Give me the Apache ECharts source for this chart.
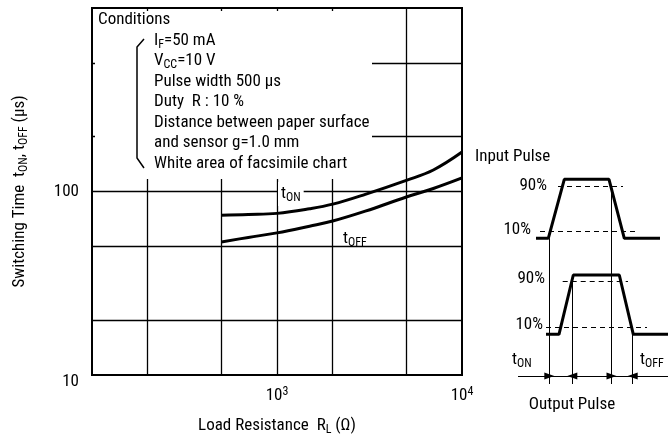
<!DOCTYPE html>
<html><head><meta charset="utf-8">
<script src="https://cdn.jsdelivr.net/npm/echarts@6/dist/echarts.min.js"></script>
<style>html,body{margin:0;padding:0;background:#fff}#c{width:668px;height:441px}</style>
</head><body><div id="c"></div>
<script>
// ---- data ----
const resistance = [500, 700, 1000, 1500, 2000, 3000, 5000, 7000, 10000];
const tOn  = [74.3, 74.9, 76.0, 80.5, 85.3, 96.5, 115, 131, 164];
const tOff = [53.1, 56.2, 59.5, 64.7, 69.0, 78.1, 93.3, 103.8, 118.5];
const xGridValues = [200, 500, 1000, 2000, 5000];
const yGridValues = [20, 50, 100, 200, 500];
const xTickExp = {1000: '3', 10000: '4'};
const yTickLabels = {10: '10', 100: '100'};
const conditionTitle = 'Conditions';
const conditionLines = [
  'I{sub|F}=50 mA',
  'V{sub|CC}=10 V',
  'Pulse width 500 µs',
  'Duty  R : 10 %',
  'Distance between paper surface',
  'and sensor g=1.0 mm',
  'White area of facsimile chart'
];
// schematic pulse diagram (schematic units of the inset panel)
const inputPulse  = [[76,108.3],[88.3,108.3],[104.3,49.3],[149,49.3],[164.3,108.3],[200,108.3]];
const outputPulse = [[86,204.3],[99,204.3],[113.3,145],[159.3,145],[173.3,204.3],[208,204.3]];
const dashedRefs = [[[98,56.7],[163,56.7]],[[80,101],[176.7,101]],[[102.7,151],[168,151]],[[86,197.7],[187,197.7]]];
const timeMarks = [[[89.3,108.3],[89.3,254]],[[151.5,57],[151.5,254]],[[112.3,151],[112.3,254]],[[172.7,198],[172.7,254]]];
const arrowLine = [[58,246],[208,246]];
const arrows = [[[58,246],[89.3,246],'none','triangle'],[[112.3,246],[151.5,246],'triangle','triangle'],[[172.7,246],[208,246],'triangle','none']];

const F = "'Liberation Sans Narrow','Arial Narrow','Roboto Condensed','DejaVu Sans Condensed',sans-serif";
const subRich = {
  sub: {fontSize: 12, fontFamily: F, verticalAlign: 'bottom', lineHeight: 10, fill: '#000', color: '#000'},
  sup: {fontSize: 12, fontFamily: F, verticalAlign: 'top', lineHeight: 10, fill: '#000', color: '#000'}
};

const chart = echarts.init(document.getElementById('c'), null, {renderer: 'canvas'});

function txt(text, x, y, opts) {
  return {
    type: 'text', z: 20, silent: true,
    style: Object.assign({
      text: text, x: x, y: y, fontSize: 17, fontFamily: F, fill: '#000',
      align: 'left', verticalAlign: 'middle', lineHeight: 20, rich: subRich
    }, opts || {})
  };
}

const graphics = [
  {type: 'rect', z: 10, silent: true, shape: {x: 95, y: 11, width: 277, height: 168}, style: {fill: '#fff'}},
  {type: 'polyline', z: 20, silent: true, shape: {points: [[144,39],[137,47],[137,158],[144,168]]}, style: {stroke: '#000', lineWidth: 1.5, fill: null}},
  txt(conditionTitle, 98, 20),
  txt('t{sub|ON}', 278, 194, {backgroundColor: '#fff', padding: [2, 3, 2, 3]}),
  txt('t{sub|OFF}', 343, 239),
  txt('Input Pulse', 475, 157),
  txt('90%', 547, 186, {align: 'right'}),
  txt('10%', 531, 230, {align: 'right'}),
  txt('90%', 545, 279, {align: 'right'}),
  txt('10%', 543, 325, {align: 'right'}),
  txt('t{sub|ON}', 512, 360),
  txt('t{sub|OFF}', 640, 360),
  txt('Output Pulse', 572, 405, {align: 'center'})
];
conditionLines.forEach((s, i) => graphics.push(txt(s, 154, 40.5 + i * 20.5)));

const blackLine = {color: '#000', width: 3};
const option = {
  animation: false,
  backgroundColor: '#fff',
  grid: [
    {left: 92, right: 206, top: 8, bottom: 66, show: true, borderColor: '#000', borderWidth: 2, backgroundColor: 'transparent'},
    {left: 460, top: 130, width: 208, height: 311, show: false}
  ],
  xAxis: [
    {type: 'log', logBase: 10, min: 100, max: 10000, gridIndex: 0,
     axisLine: {show: false}, axisTick: {show: false}, splitLine: {show: false},
     axisLabel: {margin: 11, color: '#000', fontSize: 17, fontFamily: F, lineHeight: 20,
       formatter: v => xTickExp[Math.round(v)] ? '10{sup|' + xTickExp[Math.round(v)] + '}' : '',
       rich: subRich},
     name: 'Load Resistance  R{sub|L} (Ω)', nameLocation: 'middle', nameGap: 41,
     nameTextStyle: {color: '#000', fontSize: 17, fontFamily: F, lineHeight: 20, rich: subRich}},
    {type: 'value', min: 0, max: 208, gridIndex: 1, show: false}
  ],
  yAxis: [
    {type: 'log', logBase: 10, min: 10, max: 1000, gridIndex: 0,
     axisLine: {show: false}, axisTick: {show: false}, splitLine: {show: false},
     axisLabel: {margin: 13, color: '#000', fontSize: 17, fontFamily: F,
       formatter: v => { const k = Math.round(v); if (k === 10) return '{low|10}'; return yTickLabels[k] || ''; },
       rich: {low: {fontSize: 17, fontFamily: F, padding: [14, 0, 0, 0], color: '#000'}}},
     name: 'Switching Time  t{sub|ON}, t{sub|OFF} (µs)', nameLocation: 'middle', nameGap: 62, nameRotate: 90,
     nameTextStyle: {color: '#000', fontSize: 17, fontFamily: F, lineHeight: 20, rich: subRich}},
    {type: 'value', min: 0, max: 311, inverse: true, gridIndex: 1, show: false}
  ],
  series: [
    {type: 'line', name: 'tON', xAxisIndex: 0, yAxisIndex: 0, data: resistance.map((r, i) => [r, tOn[i]]),
     smooth: 0.4, symbol: 'none', lineStyle: blackLine, z: 5,
     markLine: {silent: true, symbol: ['none', 'none'], label: {show: false}, animation: false,
       lineStyle: {color: '#000', width: 1.3, type: 'solid'},
       data: xGridValues.map(v => ({xAxis: v})).concat(yGridValues.map(v => ({yAxis: v})))}},
    {type: 'line', name: 'tOFF', xAxisIndex: 0, yAxisIndex: 0, data: resistance.map((r, i) => [r, tOff[i]]),
     smooth: 0.4, symbol: 'none', lineStyle: blackLine, z: 5},
    {type: 'line', name: 'input', xAxisIndex: 1, yAxisIndex: 1, data: inputPulse, symbol: 'none', clip: false,
     lineStyle: blackLine,
     markLine: {silent: true, label: {show: false}, animation: false, symbolSize: [7, 10],
       lineStyle: {color: '#000', width: 1, type: 'solid'},
       data: [].concat(
         dashedRefs.map(s => [{coord: s[0], symbol: 'none', lineStyle: {type: [5, 4], width: 1, color: '#000'}}, {coord: s[1], symbol: 'none'}]),
         timeMarks.map(s => [{coord: s[0], symbol: 'none'}, {coord: s[1], symbol: 'none'}]),
         [[{coord: arrowLine[0], symbol: 'none'}, {coord: arrowLine[1], symbol: 'none'}]],
         arrows.map(a => [{coord: a[0], symbol: a[2]}, {coord: a[1], symbol: a[3]}])
       )}},
    {type: 'line', name: 'output', xAxisIndex: 1, yAxisIndex: 1, data: outputPulse, symbol: 'none', clip: false,
     lineStyle: blackLine}
  ],
  graphic: graphics
};
chart.setOption(option);
</script></body></html>
